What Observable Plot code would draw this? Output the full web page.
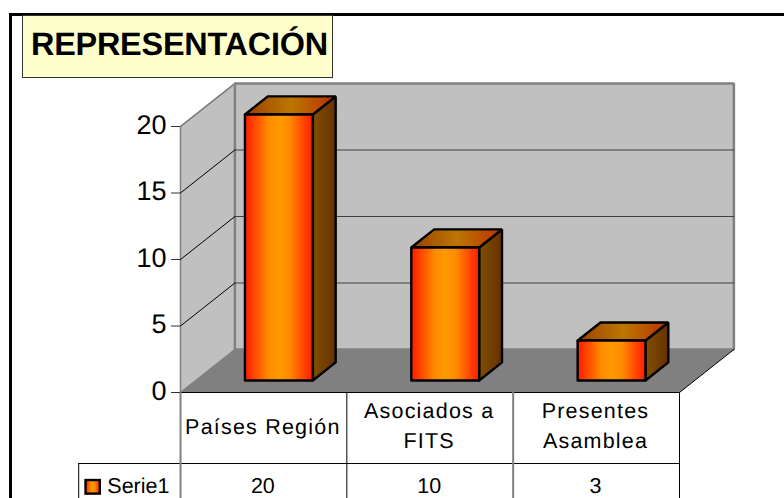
<!DOCTYPE html>
<html lang="es">
<head>
<meta charset="utf-8">
<script src="https://cdn.jsdelivr.net/npm/d3@7"></script>
<script src="https://cdn.jsdelivr.net/npm/@observablehq/plot@0.6"></script>
<style>
  html, body { margin: 0; padding: 0; background: #fff; overflow: hidden; width: 784px; height: 498px; }
  #chart { position: absolute; left: 0; top: 0; width: 784px; height: 498px; }
  #chart svg { display: block; text-rendering: geometricPrecision; }
  .cat-label text, text.cat-label, .cat-label tspan { letter-spacing: 1.2px; }
  #frame { position: absolute; left: 9px; top: 13px; right: -5px; bottom: -5px; border-left: 3px solid #000; border-top: 3px solid #000; pointer-events: none; }
  #title { position: absolute; left: 22px; top: 15px; width: 309px; height: 61px; background: #ffffcc; border: 1px solid #333;
           font: bold 32.4px/1 "Liberation Sans", Arial, sans-serif; color: #000; white-space: nowrap; text-rendering: geometricPrecision; letter-spacing: -0.22px; }
  #title span { position: absolute; left: 8px; top: 11.5px; }
</style>
</head>
<body>
<div id="chart"></div>
<div id="frame"></div>
<div id="title"><span>REPRESENTACIÓN</span></div>
<script>
const categories = ["Países Región", "Asociados a\nFITS", "Presentes\nAsamblea"];
const values = [20, 10, 3];
const valueLabels = ["20", "10", "3"];
const yTicks = [0, 5, 10, 15, 20];
const gridLevels = [5, 10, 15];
const seriesName = "Serie1";

// Oblique projection: how far one full unit of chart depth shifts x (categories) and y (value units)
const depthX = 0.327, depthY = 3.233;
const barFront = 0.28, barBack = 0.70, barHalf = 0.204;
const catCount = categories.length, yMax = 20;
const P = (x, y, d = 0) => ({x: x + d * depthX, y: y + d * depthY});
const poly = (id, pts) => [...pts, pts[0]].map(p => ({...p, id}));

const sideWall = poly("s", [P(0, 0), P(0, yMax), P(0, yMax, 1), P(0, 0, 1)]);
const backWall = poly("b", [P(0, 0, 1), P(0, yMax, 1), P(catCount, yMax, 1), P(catCount, 0, 1)]);
const floor = poly("f", [P(0, 0), P(catCount, 0), P(catCount, 0, 1), P(0, 0, 1)]);
const gridSide = gridLevels.concat([yMax]).flatMap(v => [P(0, v), P(0, v, 1)].map(p => ({...p, id: v})));
const gridBack = gridLevels.flatMap(v => [P(0, v, 1), P(catCount, v, 1)].map(p => ({...p, id: v})));

const fronts = values.flatMap((v, i) => { const a = i + .5 - barHalf, b = i + .5 + barHalf;
  return poly(i, [P(a, 0, barFront), P(a, v, barFront), P(b, v, barFront), P(b, 0, barFront)]); });
const sides = values.flatMap((v, i) => { const b = i + .5 + barHalf;
  return poly(i, [P(b, 0, barFront), P(b, v, barFront), P(b, v, barBack), P(b, 0, barBack)]); });
const tops = values.flatMap((v, i) => { const a = i + .5 - barHalf, b = i + .5 + barHalf;
  return poly(i, [P(a, v, barFront), P(b, v, barFront), P(b, v, barBack), P(a, v, barBack)]); });

// Data table below the floor, in chart units
const rowLine = -5.34, tableEnd = -8.1, legendLeft = -0.612;
const labelRows = categories.map((c, i) => ({x: i + .5 - 0.005, y: c.includes("\n") ? -2.32 : -2.37, label: c}));
const valueRows = valueLabels.map((v, i) => ({x: i + .5 - 0.005, label: v}));

const plot = Plot.plot({
  width: 784, height: 498,
  marginLeft: 180, marginRight: 105, marginTop: 126, marginBottom: 106,
  x: {domain: [0, catCount], axis: null},
  y: {domain: [0, yMax]},
  style: {fontFamily: "'Liberation Sans', Arial, sans-serif", background: "#fff", color: "#000", overflow: "hidden"},
  marks: [
    Plot.line(sideWall, {x: "x", y: "y", z: "id", fill: "#c0c0c0", stroke: "#808080", strokeWidth: 1.5}),
    Plot.line(backWall, {x: "x", y: "y", z: "id", fill: "#c0c0c0", stroke: "#808080", strokeWidth: 2.5, strokeLinejoin: "miter"}),
    Plot.line(floor, {x: "x", y: "y", z: "id", fill: "#808080", stroke: "none"}),
    Plot.line([P(catCount, 0), P(catCount, 0, 1)], {x: "x", y: "y", stroke: "#000", strokeWidth: 1}),
    Plot.line(gridBack, {x: "x", y: "y", z: "id", stroke: "#404040", strokeWidth: 1}),
    Plot.line(gridSide, {x: "x", y: "y", z: "id", stroke: "#000", strokeWidth: 1, filter: d => d.id !== yMax}),
    Plot.line(gridSide, {x: "x", y: "y", z: "id", stroke: "#808080", strokeWidth: 1.5, filter: d => d.id === yMax}),

    Plot.line(sides, {x: "x", y: "y", z: "id", fill: "url(#barSide)", stroke: "#000", strokeWidth: 2.4, strokeLinejoin: "miter"}),
    Plot.line(tops, {x: "x", y: "y", z: "id", fill: "url(#barTop)", stroke: "#000", strokeWidth: 2.4, strokeLinejoin: "miter"}),
    Plot.line(fronts, {x: "x", y: "y", z: "id", fill: "url(#barFront)", stroke: "#000", strokeWidth: 2.4, strokeLinejoin: "miter"}),

    // table rules
    Plot.ruleY([0], {x1: 0, x2: catCount, stroke: "#000", strokeWidth: 1}),
    Plot.ruleY([rowLine], {x1: legendLeft, x2: catCount, stroke: "#000", strokeWidth: 1}),
    Plot.ruleX([1, 3], {y1: 0, y2: tableEnd, stroke: "#000", strokeWidth: 1}),
    Plot.ruleX([0, 2], {y1: 0, y2: tableEnd, stroke: "#808080", strokeWidth: 2}),
    Plot.ruleX([legendLeft], {y1: rowLine, y2: tableEnd, stroke: "#000", strokeWidth: 1}),

    Plot.text(labelRows, {x: "x", y: "y", text: "label", fontSize: 21.5, lineHeight: 1.4, textAnchor: "middle", lineAnchor: "middle",
      fill: "#000", className: "cat-label"}),
    Plot.text(valueRows, {x: "x", y: rowLine - 1.72, text: "label", fontSize: 21.5, fill: "#000", textAnchor: "middle", lineAnchor: "middle"}),

    // legend key
    Plot.rect([seriesName], {x1: -0.568, x2: -0.482, y1: rowLine - 1.28, y2: rowLine - 2.3, fill: "url(#barFront)", stroke: "#000", strokeWidth: 2.4}),
    Plot.text([seriesName], {x: -0.44, y: rowLine - 1.72, text: d => d, fontSize: 21.5, fill: "#000", textAnchor: "start", lineAnchor: "middle"}),

    // y axis: tick marks stay on the value, labels sit slightly above them
    Plot.ruleY(yTicks, {x1: -0.054, x2: 0, stroke: "#333", strokeWidth: 1}),
    Plot.axisY(yTicks, {anchor: "left", tickSize: 0, tickPadding: 14, fontSize: 27, label: null, fill: "#000", textStroke: "none", dy: -1.5, tickFormat: d => d})
  ]
});

const svgNS = "http://www.w3.org/2000/svg";
const defs = document.createElementNS(svgNS, "defs");
const gradient = (id, stops) => {
  const g = document.createElementNS(svgNS, "linearGradient");
  g.setAttribute("id", id);
  g.setAttribute("x1", "0"); g.setAttribute("x2", "1"); g.setAttribute("y1", "0"); g.setAttribute("y2", "0");
  stops.forEach(([o, c]) => {
    const s = document.createElementNS(svgNS, "stop");
    s.setAttribute("offset", o); s.setAttribute("stop-color", c);
    g.appendChild(s);
  });
  defs.appendChild(g);
};
gradient("barFront", [[0, "#ff1a00"], [.35, "#ff8c00"], [.5, "#ff9900"], [.65, "#ff8c00"], [1, "#ff1a00"]]);
gradient("barSide", [[0, "#805000"], [1, "#663000"]]);
gradient("barTop", [[0, "#9a4000"], [.5, "#bb7700"], [1, "#bb3000"]]);
plot.prepend(defs);
document.getElementById("chart").appendChild(plot);
</script>
</body>
</html>
